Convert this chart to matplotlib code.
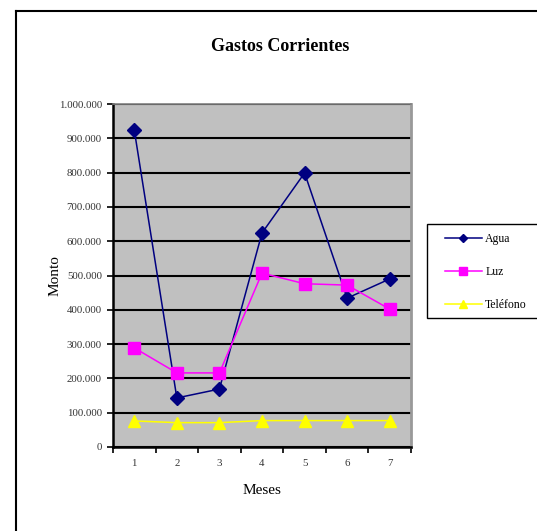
import matplotlib
matplotlib.use('Agg')
import matplotlib.pyplot as plt
from matplotlib.ticker import FuncFormatter, FixedLocator
from matplotlib.lines import Line2D
from matplotlib.patches import Rectangle

plt.rcParams['font.family'] = ['Liberation Serif', 'DejaVu Serif']

# datos
meses = [1, 2, 3, 4, 5, 6, 7]
agua = [924000, 143000, 169000, 624000, 799000, 434000, 490000]
luz = [289000, 216000, 216000, 507000, 476000, 472000, 402000]
telefono = [76000, 71000, 71000, 77000, 77000, 77000, 77000]

fig = plt.figure(figsize=(5.37, 5.31), dpi=100)
ax = fig.add_axes([0.2104, 0.1582, 0.555, 0.6459])
ax.set_facecolor('#C0C0C0')

ax.plot(meses, agua, color='#000080', lw=1.1, marker='D', markersize=7.5, label='Agua')
ax.plot(meses, luz, color='#FF00FF', lw=1.1, marker='s', markersize=9, label='Luz')
ax.plot(meses, telefono, color='#FFFF00', lw=1.1, marker='^', markersize=9, label='Teléfono')

ax.set_xlim(0.5, 7.5)
ax.set_ylim(0, 1000000)
ax.set_yticks(range(0, 1000001, 100000))
ax.yaxis.set_major_formatter(FuncFormatter(lambda v, p: f'{int(v):,}'.replace(',', '.')))
ax.set_xticks(meses)
ax.xaxis.set_minor_locator(FixedLocator([0.5 + i for i in range(8)]))
ax.tick_params(axis='x', which='major', length=0, labelsize=7.8, pad=9, colors='#333333')
ax.tick_params(axis='x', which='minor', length=4, width=1.2, direction='out')
ax.tick_params(axis='y', length=4, width=1.2, labelsize=7.8, pad=4, labelcolor='#333333')
ax.grid(axis='y', color='black', lw=1.5)
ax.set_axisbelow(True)

for s in ['left', 'bottom']:
    ax.spines[s].set_linewidth(1.8)
    ax.spines[s].set_color('black')
ax.spines['top'].set_color('#808080')
ax.spines['top'].set_linewidth(1.2)
ax.spines['right'].set_color('#999999')
ax.spines['right'].set_linewidth(2)

ax.set_xlabel('Meses', fontsize=11, labelpad=11)
ax.set_ylabel('Monto', fontsize=11, labelpad=-2)

fig.text(0.5214, 0.913, 'Gastos Corrientes', ha='center', va='center', fontsize=13, fontweight='bold')

# caja de la leyenda (sale del borde derecho)
fig.add_artist(Rectangle((427 / 537, 1 - 318 / 531), 0.25, 94 / 531, transform=fig.transFigure,
                         facecolor='white', edgecolor='black', lw=1.0))
leg = fig.legend(loc='center left', bbox_to_anchor=(445 / 537, 1 - 272 / 531), fontsize=8.5,
                 frameon=False, borderpad=0, labelspacing=1.75,
                 handlelength=3.1, handletextpad=0.3, markerscale=0.6, borderaxespad=0)

# borde del area del grafico
fig.add_artist(Line2D([0.0298, 1.0], [0.979, 0.979], color='black', lw=1.5, transform=fig.transFigure))
fig.add_artist(Line2D([0.0298, 0.0298], [0.0, 0.979], color='black', lw=1.5, transform=fig.transFigure))

fig.savefig('out.png', dpi=100)
